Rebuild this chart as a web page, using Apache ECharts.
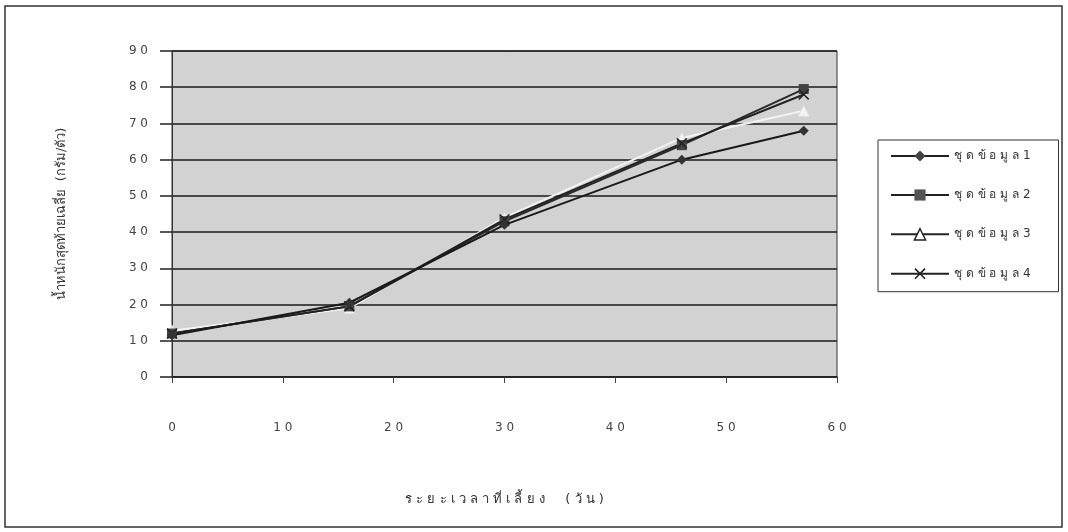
<!DOCTYPE html>
<html>
<head>
<meta charset="utf-8">
<script src="https://cdn.jsdelivr.net/npm/echarts@6/dist/echarts.min.js"></script>
<style>
  html, body { margin: 0; padding: 0; background: #fff; }
  #chart { width: 1068px; height: 532px; }
</style>
</head>
<body>
<div id="chart"></div>
<script>
// ระยะเวลาที่เลี้ยง (วัน)
const days = [0, 16, 30, 46, 57]
// น้ำหนักสุดท้ายเฉลี่ย ของแต่ละชุดข้อมูล
const set1 = [11.5, 20.5, 42, 60, 68]
const set2 = [12, 19.5, 43, 64, 79.5]
const set3 = [12.8, 19, 44, 66, 73.5]
const set4 = [12, 19.5, 43.5, 64.5, 78]
const seriesNames = ['ชุ ด ข้ อ มู ล 1', 'ชุ ด ข้ อ มู ล 2', 'ชุ ด ข้ อ มู ล 3', 'ชุ ด ข้ อ มู ล 4']
// ป้ายแกน
const xTicks = ['0', '1 0', '2 0', '3 0', '4 0', '5 0', '6 0']
const yTicks = ['0', '1 0', '2 0', '3 0', '4 0', '5 0', '6 0', '7 0', '8 0', '9 0']
const xTitle = 'ร ะ ย ะ เ ว ล า ที่ เ ลี้ ย ง     ( วั น )'
const yTitle = 'น้ำหนักสุดท้ายเฉลี่ย  (กรัม/ตัว)'

const font = '"DejaVu Sans", "Noto Sans", sans-serif'
const crossPath = 'path://M0,1 L1,0 L5,4 L9,0 L10,1 L6,5 L10,9 L9,10 L5,6 L1,10 L0,9 L4,5 Z'

const pairs = arr => days.map((d, i) => [d, arr[i]])

const chart = echarts.init(document.getElementById('chart'))
chart.setOption({
  animation: false,
  backgroundColor: '#fff',
  textStyle: { fontFamily: font },
  graphic: [
    {
      type: 'rect',
      shape: { x: 5, y: 6, width: 1057, height: 521 },
      style: { fill: 'none', stroke: '#333', lineWidth: 1.5 },
      z: -1
    }
  ],
  grid: {
    left: 172,
    right: 231,
    top: 51,
    bottom: 155,
    show: true,
    backgroundColor: '#d2d2d2',
    borderColor: '#333',
    borderWidth: 1
  },
  legend: {
    orient: 'vertical',
    left: 878,
    top: 140,
    padding: [10, 28, 12, 12],
    itemWidth: 58,
    itemHeight: 14,
    itemGap: 27,
    backgroundColor: '#fff',
    borderColor: '#333',
    borderWidth: 1,
    textStyle: { color: '#333', fontSize: 12, fontFamily: font },
    data: [
      { name: seriesNames[0], lineStyle: { color: '#222' }, itemStyle: { color: '#444' } },
      { name: seriesNames[1], lineStyle: { color: '#222' }, itemStyle: { color: '#555' } },
      { name: seriesNames[2], lineStyle: { color: '#222' }, itemStyle: { color: '#fff', borderColor: '#222', borderWidth: 1.5 } },
      { name: seriesNames[3], lineStyle: { color: '#222' }, itemStyle: { color: '#222' } }
    ]
  },
  xAxis: {
    type: 'value',
    min: 0,
    max: 60,
    interval: 10,
    name: xTitle,
    nameLocation: 'middle',
    nameGap: 116,
    nameTextStyle: { color: '#333', fontSize: 13 },
    axisLine: { lineStyle: { color: '#222', width: 1.5 } },
    axisTick: { show: true, length: 6, lineStyle: { color: '#444' } },
    axisLabel: {
      margin: 45,
      color: '#444',
      fontSize: 12,
      formatter: v => xTicks[Math.round(v / 10)]
    },
    splitLine: { show: false }
  },
  yAxis: {
    type: 'value',
    min: 0,
    max: 90,
    interval: 10,
    name: yTitle,
    nameLocation: 'middle',
    nameRotate: 90,
    nameGap: 104,
    nameTextStyle: { color: '#333', fontSize: 13 },
    axisLine: { show: true, lineStyle: { color: '#333', width: 1 } },
    axisTick: { show: true, length: 12, lineStyle: { color: '#222', width: 1.5 } },
    axisLabel: {
      margin: 24,
      color: '#444',
      fontSize: 12,
      formatter: v => yTicks[Math.round(v / 10)]
    },
    splitLine: { show: true, lineStyle: { color: '#1a1a1a', width: 1.5 } }
  },
  series: [
    {
      name: seriesNames[0],
      type: 'line',
      data: pairs(set1),
      symbol: 'diamond',
      symbolSize: 10,
      lineStyle: { color: '#1a1a1a', width: 2 },
      itemStyle: { color: '#333' },
      z: 4
    },
    {
      name: seriesNames[1],
      type: 'line',
      data: pairs(set2),
      symbol: 'rect',
      symbolSize: 10,
      lineStyle: { color: '#2a2a2a', width: 2 },
      itemStyle: { color: '#444' },
      z: 3
    },
    {
      name: seriesNames[2],
      type: 'line',
      data: pairs(set3),
      symbol: 'triangle',
      symbolSize: 11,
      lineStyle: { color: '#f2f2f2', width: 2 },
      itemStyle: { color: '#f4f4f4', borderColor: '#e0e0e0', borderWidth: 1 },
      z: 2
    },
    {
      name: seriesNames[3],
      type: 'line',
      data: pairs(set4),
      symbol: crossPath,
      symbolSize: 11,
      lineStyle: { color: '#222', width: 2 },
      itemStyle: { color: '#222' },
      z: 3
    }
  ]
})
</script>
</body>
</html>
